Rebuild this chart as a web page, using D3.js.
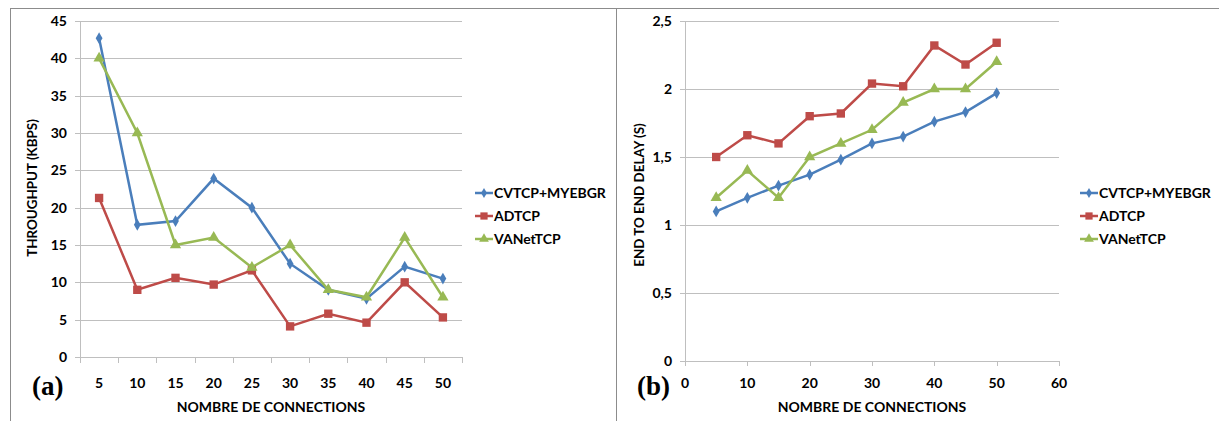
<!DOCTYPE html>
<html><head><meta charset="utf-8">
<script src="https://d3js.org/d3.v7.min.js"></script>
<style>body{margin:0;background:#fff}svg{display:block}text{font-family:Lato,"Open Sans",sans-serif;font-weight:bold;fill:#000}</style>
</head><body><svg id="c" width="1219" height="421"></svg>
<script>
const connections = [5,10,15,20,25,30,35,40,45,50];
const seriesNames = ["CVTCP+MYEBGR","ADTCP","VANetTCP"];
const throughputCVTCP = [42.7,17.7,18.2,23.9,20,12.5,9,7.8,12.1,10.5];
const throughputADTCP = [21.3,9,10.6,9.7,11.6,4.1,5.8,4.6,10,5.3];
const throughputVANet = [40,30,15,16,12,15,9,8,16,8];
const delayCVTCP = [1.1,1.2,1.29,1.37,1.48,1.6,1.65,1.76,1.83,1.97];
const delayADTCP = [1.5,1.66,1.6,1.8,1.82,2.04,2.02,2.32,2.18,2.34];
const delayVANet = [1.2,1.4,1.2,1.5,1.6,1.7,1.9,2.0,2.0,2.2];
const throughputTicks = [0,5,10,15,20,25,30,35,40,45];
const delayTicks = [0,0.5,1,1.5,2,2.5];
const delayXTicks = [0,10,20,30,40,50,60];

const colors = ["#4a7ebb","#be4b48","#98b954"];
const symbols = [d3.symbolDiamond, d3.symbolSquare, d3.symbolTriangle];
const symSizes = [40, 70, 55];
const svg = d3.select("#c");
const grid = "#bfbfbf";

// frame
svg.append("line").attr("x1",10).attr("x2",1219).attr("y1",8.5).attr("y2",8.5).attr("stroke","#8c8c8c");
svg.append("line").attr("x1",10.5).attr("x2",10.5).attr("y1",8).attr("y2",421).attr("stroke","#8c8c8c");
svg.append("line").attr("x1",616.5).attr("x2",616.5).attr("y1",8).attr("y2",421).attr("stroke","#8c8c8c");

function drawMarkers(g, pts, i){
  g.selectAll(null).data(pts).enter().append("path")
    .attr("d", d3.symbol().type(symbols[i]).size(symSizes[i]))
    .attr("transform", d => `translate(${d[0]},${d[1]})`)
    .attr("fill", colors[i]);
}
function legend(x, y0){
  seriesNames.forEach((n,i)=>{
    const y = y0 + i*23;
    svg.append("line").attr("x1",x).attr("x2",x+18).attr("y1",y).attr("y2",y).attr("stroke",colors[i]).attr("stroke-width",2.5);
    svg.append("path").attr("d", d3.symbol().type(symbols[i]).size(symSizes[i]*0.75)).attr("transform",`translate(${x+9},${y})`).attr("fill",colors[i]);
    svg.append("text").attr("x",x+19).attr("y",y+5).attr("font-size",14).text(n);
  });
}

// ---------- Chart (a) ----------
{
  const x = d3.scaleBand().domain(connections).range([80,462]);
  const y = d3.scaleLinear().domain([0,45]).range([357,21]);
  const g = svg.append("g");
  g.selectAll(null).data(throughputTicks).enter().append("line")
    .attr("x1",75).attr("x2",462).attr("y1",d=>Math.round(y(d))+0.5).attr("y2",d=>Math.round(y(d))+0.5).attr("stroke",grid);
  g.append("line").attr("x1",80.5).attr("x2",80.5).attr("y1",21).attr("y2",357).attr("stroke",grid);
  const xb = [...connections.map(c=>x(c)), 462];
  g.selectAll(null).data(xb).enter().append("line")
    .attr("x1",d=>Math.round(d)+0.5).attr("x2",d=>Math.round(d)+0.5).attr("y1",357).attr("y2",363).attr("stroke",grid);
  g.selectAll(null).data(throughputTicks).enter().append("text")
    .attr("x",67).attr("y",d=>y(d)+5).attr("text-anchor","end").attr("font-size",14).text(d=>d);
  g.selectAll(null).data(connections).enter().append("text")
    .attr("x",d=>x(d)+x.bandwidth()/2).attr("y",388).attr("text-anchor","middle").attr("font-size",14).text(d=>d);
  g.append("text").attr("x",271).attr("y",412).attr("text-anchor","middle").attr("font-size",14).text("NOMBRE DE CONNECTIONS");
  g.append("text").attr("transform","translate(37,188) rotate(-90)").attr("text-anchor","middle").attr("font-size",13.4).text("THROUGHPUT (KBPS)");
  g.append("text").attr("x",32).attr("y",395).attr("font-size",27).style("font-family","'Liberation Serif',serif").text("(a)");
  const series = [throughputCVTCP, throughputADTCP, throughputVANet];
  const line = d3.line().x(d=>d[0]).y(d=>d[1]);
  series.forEach((s,i)=>{
    const pts = s.map((v,j)=>[x(connections[j])+x.bandwidth()/2, y(v)]);
    g.append("path").attr("d",line(pts)).attr("fill","none").attr("stroke",colors[i]).attr("stroke-width",2.5);
  });
  series.forEach((s,i)=>drawMarkers(g, s.map((v,j)=>[x(connections[j])+x.bandwidth()/2, y(v)]), i));
  legend(475, 193);
}

// ---------- Chart (b) ----------
{
  const x = d3.scaleLinear().domain([0,60]).range([685,1059]);
  const y = d3.scaleLinear().domain([0,2.5]).range([361,21]);
  const g = svg.append("g");
  const fmt = d => String(d).replace(".",",");
  g.selectAll(null).data(delayTicks).enter().append("line")
    .attr("x1",680).attr("x2",1059).attr("y1",d=>Math.round(y(d))+0.5).attr("y2",d=>Math.round(y(d))+0.5).attr("stroke",grid);
  g.append("line").attr("x1",685.5).attr("x2",685.5).attr("y1",21).attr("y2",361).attr("stroke",grid);
  g.selectAll(null).data(delayXTicks).enter().append("line")
    .attr("x1",d=>Math.round(x(d))+0.5).attr("x2",d=>Math.round(x(d))+0.5).attr("y1",361).attr("y2",366).attr("stroke",grid);
  g.selectAll(null).data(delayTicks).enter().append("text")
    .attr("x",672).attr("y",d=>y(d)+5).attr("text-anchor","end").attr("font-size",14).text(fmt);
  g.selectAll(null).data(delayXTicks).enter().append("text")
    .attr("x",d=>x(d)).attr("y",388).attr("text-anchor","middle").attr("font-size",14).text(d=>d);
  g.append("text").attr("x",872).attr("y",412).attr("text-anchor","middle").attr("font-size",14).text("NOMBRE DE CONNECTIONS");
  g.append("text").attr("transform","translate(644,195) rotate(-90)").attr("text-anchor","middle").attr("font-size",13.4).text("END TO END DELAY (S)");
  g.append("text").attr("x",637).attr("y",395).attr("font-size",27).style("font-family","'Liberation Serif',serif").text("(b)");
  const series = [delayCVTCP, delayADTCP, delayVANet];
  const line = d3.line().x(d=>d[0]).y(d=>d[1]);
  series.forEach((s,i)=>{
    const pts = s.map((v,j)=>[x(connections[j]), y(v)]);
    g.append("path").attr("d",line(pts)).attr("fill","none").attr("stroke",colors[i]).attr("stroke-width",2.5);
  });
  series.forEach((s,i)=>drawMarkers(g, s.map((v,j)=>[x(connections[j]), y(v)]), i));
  legend(1080, 193);
}
</script></body></html>
